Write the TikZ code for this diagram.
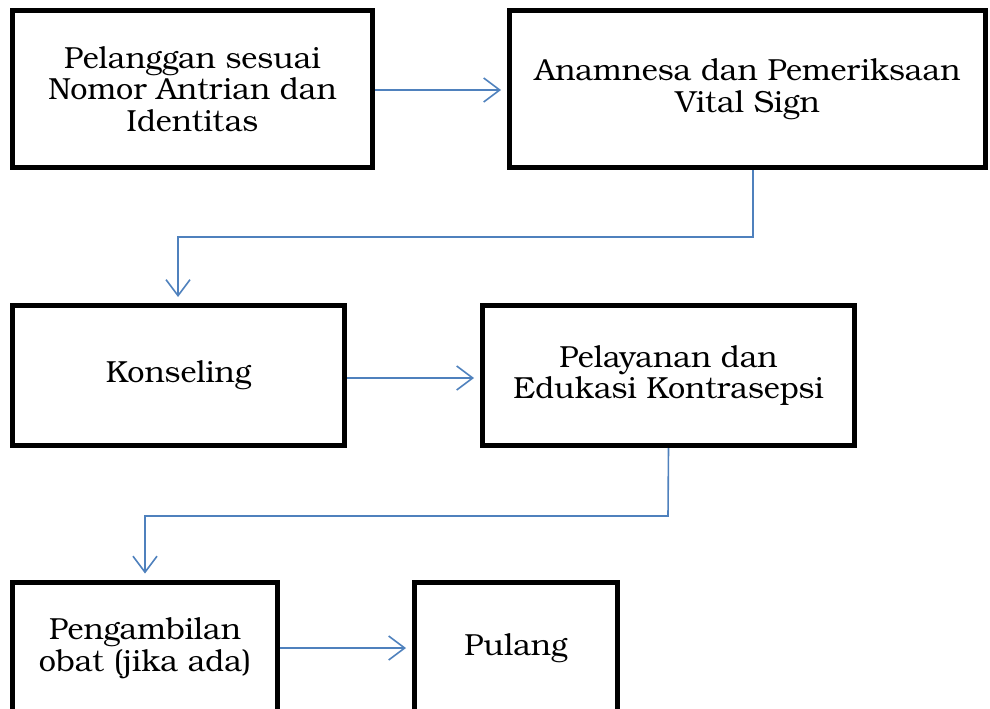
\documentclass[tikz,border=0pt]{standalone}
\usepackage{fontspec}
\setmainfont{TeX Gyre Bonum}
\usetikzlibrary{arrows.meta}
\definecolor{flowblue}{RGB}{79,129,189}
\tikzset{
    stepbox/.style={draw=black, line width=5pt, align=center, inner sep=0pt,
        font=\fontsize{30.5}{31.5}\selectfont},
    flow/.style={draw=flowblue, line width=1.6pt,
        -{Straight Barb[length=16pt,width=24pt,line width=1.6pt]}, shorten >=6pt}
}
\begin{document}
\begin{tikzpicture}[x=1pt,y=-1pt]
    \useasboundingbox (0,0) rectangle (990,709);
    % boxes
    \node[stepbox, minimum width=360pt, minimum height=157pt] (pelanggan) at (192.5,89)
        {Pelanggan sesuai\\Nomor Antrian dan\\Identitas};
    \node[stepbox, minimum width=476pt, minimum height=157pt] (anamnesa) at (747.5,89)
        {Anamnesa dan Pemeriksaan\\Vital Sign};
    \node[stepbox, minimum width=332pt, minimum height=140pt] (konseling) at (178.5,375.5)
        {Konseling};
    \node[stepbox, minimum width=372pt, minimum height=140pt] (pelayanan) at (668.5,375.5)
        {Pelayanan dan\\Edukasi Kontrasepsi};
    \node[stepbox, minimum width=265pt, minimum height=132pt] (obat) at (145,648)
        {Pengambilan\\obat (jika ada)};
    \node[stepbox, minimum width=203pt, minimum height=132pt] (pulang) at (516,648)
        {Pulang};
    % connectors
    \draw[flow] (pelanggan.east |- 0,90) -- (anamnesa.west |- 0,90);
    \draw[flow] (753,0 |- anamnesa.south) -- (753,237) -| (konseling.north -| 178,0);
    \draw[flow] (konseling.east |- 0,378) -- (pelayanan.west |- 0,378);
    \draw[flow] (pelayanan.south) -- (668,516) -| (obat.north -| 145,0);
    \draw[flow] (obat.east) -- (pulang.west);
\end{tikzpicture}
\end{document}
